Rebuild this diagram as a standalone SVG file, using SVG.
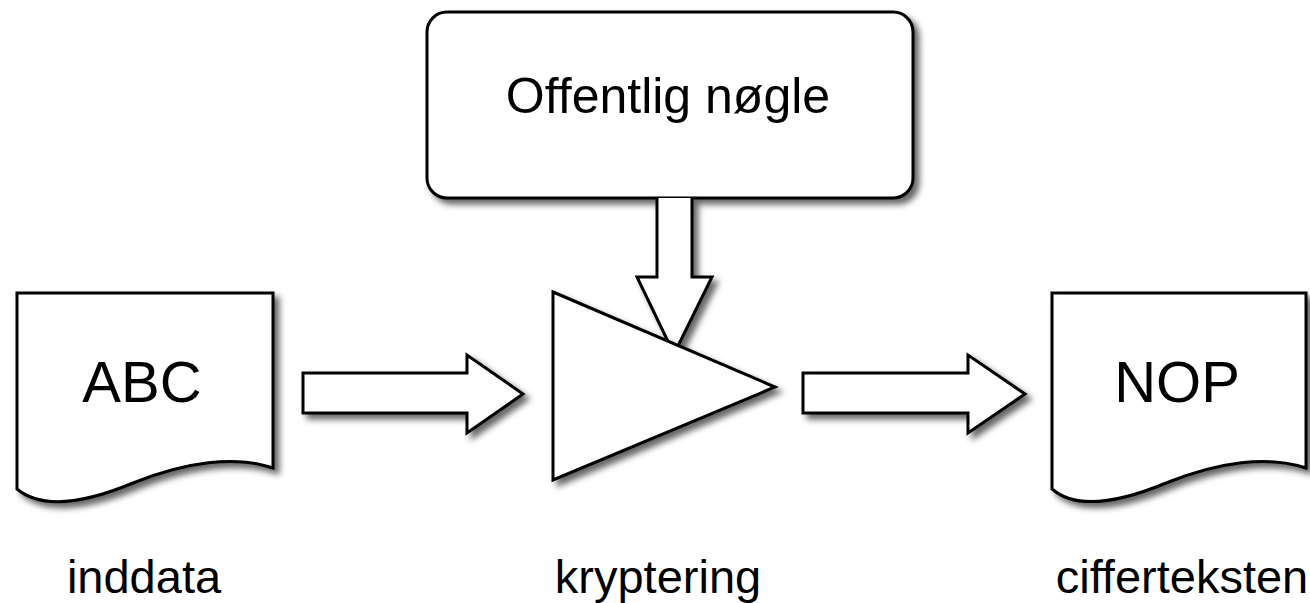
<svg xmlns="http://www.w3.org/2000/svg" width="1310" height="603" viewBox="0 0 1310 603">
  <defs>
    <filter id="shadow" x="-10%" y="-10%" width="130%" height="130%">
      <feDropShadow dx="5" dy="5" stdDeviation="3" flood-color="#000" flood-opacity="0.6"/>
    </filter>
    <style>
      .shape { fill: #fff; stroke: #000; stroke-width: 3; stroke-linejoin: miter; filter: url(#shadow); }
      .big { font-family: "Liberation Sans", Arial, sans-serif; font-size: 58px; fill: #000; text-anchor: middle; }
      .key { font-family: "Liberation Sans", Arial, sans-serif; font-size: 50px; fill: #000; text-anchor: middle; }
      .label { font-family: "Liberation Sans", Arial, sans-serif; font-size: 47px; fill: #000; text-anchor: middle; }
    </style>
  </defs>
  <rect width="1310" height="603" fill="#fff"/>

  <!-- input document -->
  <g id="inddata">
    <path class="shape" d="M17,293 H273 V468 C235,455 185,462 133,483 C80,505 40,508 17,489 Z"/>
    <text class="big" x="142" y="402">ABC</text>
  </g>

  <!-- public key box -->
  <g id="offentlig-noegle">
    <rect class="shape" x="427" y="12" width="486" height="186" rx="20" ry="20"/>
    <text class="key" x="668" y="113">Offentlig nøgle</text>
  </g>

  <!-- block arrows -->
  <g id="connectors">
    <path class="shape" d="M303,373 H467 V355 L523,394 L467,433 V413 H303 Z"/>
    <path class="shape" d="M803,373 H968 V355 L1025,394 L968,433 V413 H803 Z"/>
    <path class="shape" d="M657,198 V277 H637 L674,354 L712,277 H692 V198"/>
  </g>

  <!-- encryption triangle -->
  <g id="kryptering">
    <path class="shape" d="M553,292 L775,387 L553,480 Z"/>
  </g>

  <!-- output document -->
  <g id="ciffertekst">
    <path class="shape" d="M1052,293 H1306 V468 C1268,455 1218,462 1166,483 C1113,505 1074,508 1052,489 Z"/>
    <text class="big" x="1177" y="402">NOP</text>
  </g>

  <!-- captions -->
  <g id="labels">
    <text class="label" x="144" y="593">inddata</text>
    <text class="label" x="658" y="593">kryptering</text>
    <text class="label" x="1182" y="593">cifferteksten</text>
  </g>
</svg>
